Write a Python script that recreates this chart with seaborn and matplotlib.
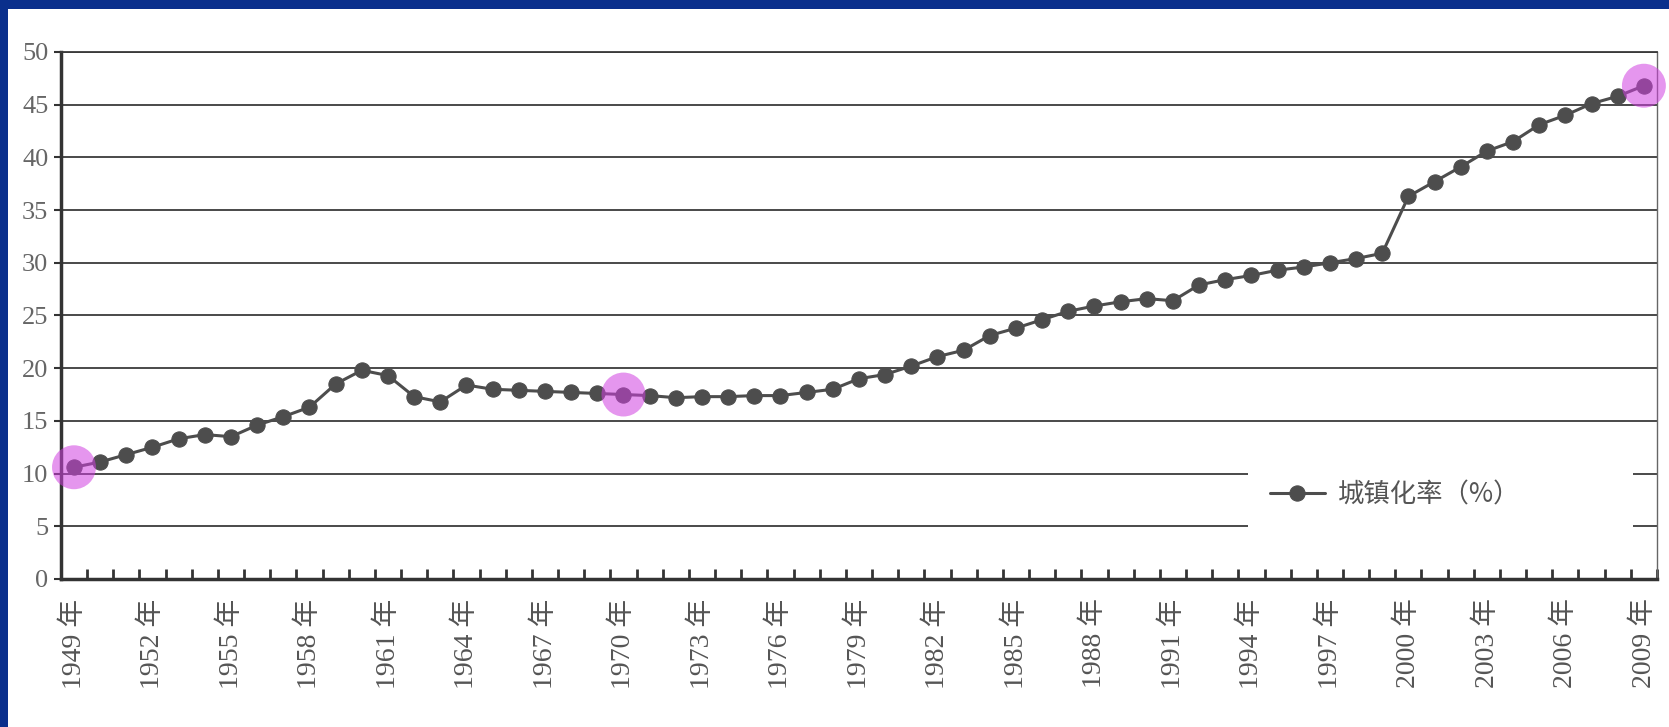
import matplotlib.pyplot as plt
import matplotlib.ticker as mticker
from matplotlib.patches import Rectangle
import seaborn as sns
import pandas as pd
import numpy as np

# China urbanisation rate 1949-2009
years = list(range(1949, 2010))
rates = [10.6, 11.1, 11.8, 12.5, 13.3, 13.7, 13.5, 14.6, 15.4, 16.3,
         18.5, 19.8, 19.3, 17.3, 16.8, 18.4, 18.0, 17.9, 17.8, 17.7,
         17.6, 17.5, 17.4, 17.2, 17.3, 17.3, 17.4, 17.4, 17.7, 18.0,
         19.0, 19.4, 20.2, 21.1, 21.7, 23.1, 23.8, 24.6, 25.4, 25.9,
         26.3, 26.6, 26.4, 27.9, 28.4, 28.8, 29.3, 29.6, 30.0, 30.4,
         30.9, 36.3, 37.7, 39.1, 40.6, 41.5, 43.1, 44.0, 45.1, 45.8,
         46.8]
highlight_years = [1949, 1970, 2009]
series_label = "城镇化率（%）"
y_ticks = list(range(0, 51, 5))

df = pd.DataFrame({"year": years, "rate": rates})
hl = df[df["year"].isin(highlight_years)]

sns.set_theme(style="white")
plt.rcParams['font.family'] = ['Liberation Serif', 'Noto Sans CJK SC']

fig = plt.figure(figsize=(16.69, 7.27), dpi=100)
fig.patch.set_facecolor('#0a2f8c')
# white page inside the blue slide frame (blue only on top and left)
fig.add_artist(Rectangle((8 / 1669, 0), 1, 1 - 9 / 727, transform=fig.transFigure,
                         facecolor='white', edgecolor='none', zorder=-1))

ax = fig.add_axes([0.0365, 0.2036, 0.9563, 0.7249])
ax.set_facecolor('white')

sns.lineplot(data=df, x="year", y="rate", ax=ax, color='#4d4d4d', linewidth=2.2,
             marker='o', markersize=11, markeredgecolor='#4d4d4d',
             label=series_label, zorder=3)

# pink highlight circles
ax.scatter(hl["year"], hl["rate"], s=1000, color='#d040e0', alpha=0.55,
           edgecolors='none', zorder=4, clip_on=False)

ax.set_xlim(years[0] - 0.5, years[-1] + 0.5)
ax.set_ylim(0, 50)
ax.set_yticks(y_ticks)
ax.set_xticks(years[::3])
ax.set_xticklabels([f"{y} 年" for y in years[::3]], rotation=90)
ax.xaxis.set_minor_locator(mticker.FixedLocator(np.arange(years[0] - 0.5, years[-1] + 1)))

ax.grid(axis='y', color='#3a3a3a', linewidth=1.3)
ax.set_axisbelow(True)

for side in ['left', 'bottom']:
    ax.spines[side].set_color('#333333')
    ax.spines[side].set_linewidth(2.5)
ax.spines['right'].set_color('#666666')
ax.spines['right'].set_linewidth(1.0)
ax.spines['top'].set_color('#3a3a3a')
ax.spines['top'].set_linewidth(1.3)

ax.tick_params(axis='x', which='major', length=0, pad=14, labelsize=20, labelcolor='#555555')
ax.tick_params(axis='x', which='minor', direction='in', length=7, width=2, color='#333333')
ax.tick_params(axis='y', which='major', direction='out', length=5, width=1.5, color='#333333',
               pad=4, labelsize=19, labelcolor='#666666')
ax.tick_params(bottom=True, left=True, which='both')
ax.set_xlabel("")
ax.set_ylabel("")

# white box behind the legend that hides part of the gridlines
ax.add_patch(Rectangle((0.7436, 0.02), 0.2414, 0.25, transform=ax.transAxes,
                       facecolor='white', edgecolor='none', zorder=1))

leg = ax.legend(loc='center left', bbox_to_anchor=(0.749, 0.159), frameon=False,
                borderpad=0, handlelength=2.1, handletextpad=0.5,
                prop={'family': ['Noto Sans CJK SC'], 'size': 19})
for t in leg.get_texts():
    t.set_color('#555555')
leg.set_zorder(5)

plt.savefig("out.png", dpi=100)
plt.close()
